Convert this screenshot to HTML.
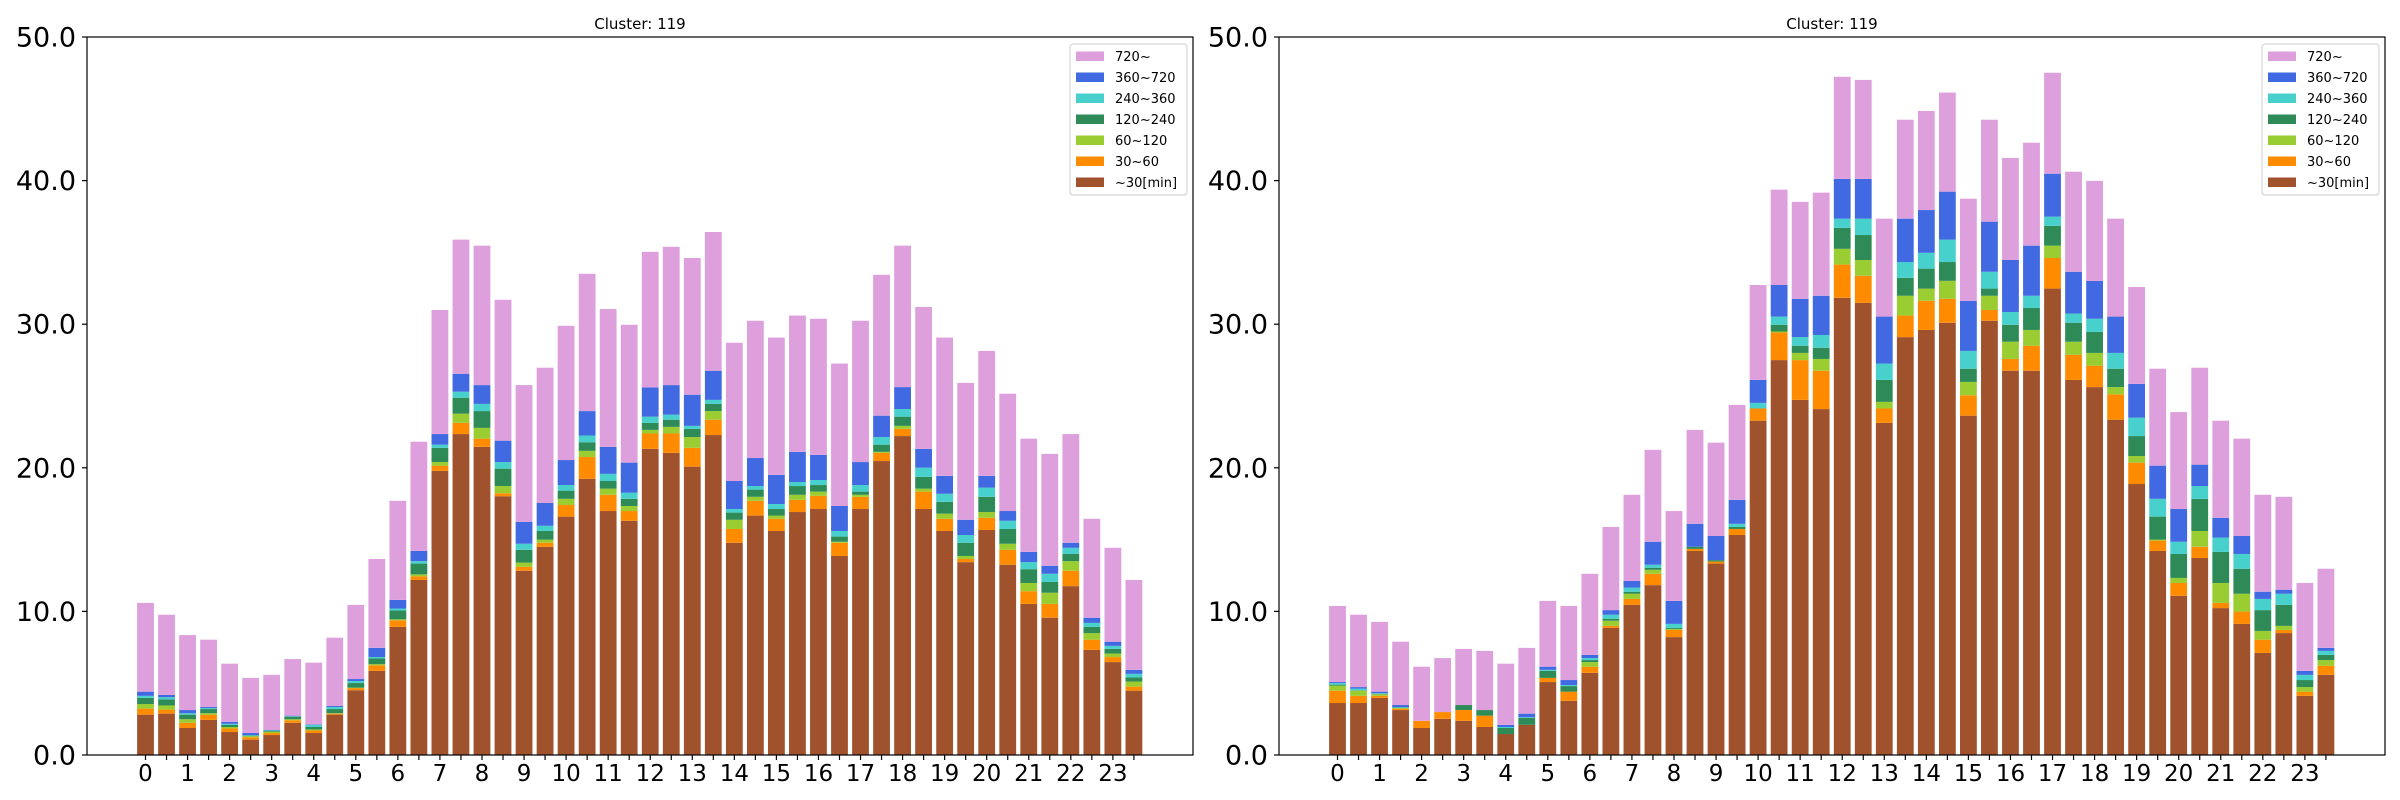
<!DOCTYPE html>
<html><head><meta charset="utf-8"><style>
html,body{margin:0;padding:0;background:#fff;}
svg{display:block;font-family:"DejaVu Sans","Liberation Sans",sans-serif;}
</style></head><body>
<svg id="chart" width="2400" height="800" viewBox="0 0 2400 800"></svg>
<script>
// ---- data ----
const hourLabels = ["0","1","2","3","4","5","6","7","8","9","10","11","12","13","14","15","16","17","18","19","20","21","22","23"];
const yTicks = [0,10,20,30,40,50];
const seriesNames = ["~30[min]","30~60","60~120","120~240","240~360","360~720","720~"];
const seriesColors = ["#a0522d","#ff8c00","#9acd32","#2e8b57","#48d1cc","#4169e1","#dda0dd"];

// left panel segment values
const L_under30 = [2.81,2.88,1.88,2.45,1.60,1.07,1.39,2.24,1.53,2.81,4.51,5.86,8.92,12.19,19.79,22.35,21.46,18.02,12.83,14.50,16.60,19.23,16.99,16.31,21.32,21.04,20.08,22.28,14.78,16.67,15.60,16.92,17.13,13.86,17.13,20.47,22.21,17.13,15.60,13.43,15.67,13.25,10.52,9.56,11.76,7.32,6.47,4.48];
const L_30to60 = [.42,.28,.36,.36,.25,.17,.14,.18,.18,.07,.15,.39,.46,.25,.36,.78,.57,.21,.28,.28,.81,1.52,1.13,.68,1.07,1.35,1.31,1.07,.96,1.03,.85,.85,.92,.92,.85,.57,.50,1.21,.85,.22,.85,1.04,.89,.96,1.07,.71,.35,.28];
const L_60to120 = [.32,.29,.25,.10,.10,.07,.10,.07,.07,.03,.03,.08,.07,.14,.25,.64,.75,.50,.29,.22,.43,.43,.43,.35,.25,.46,.75,.60,.64,.28,.22,.35,.29,.07,.14,.07,.21,.21,.36,.21,.40,.42,.57,.78,.67,.46,.25,.36];
const L_120to240 = [.43,.42,.32,.29,.15,.04,.04,.18,.17,.29,.32,.39,.61,.75,.99,1.11,1.17,1.21,.89,.60,.57,.60,.53,.50,.49,.50,.57,.50,.50,.50,.46,.61,.46,.36,.22,.50,.64,.82,.82,.92,1.06,1.03,.96,.75,.50,.43,.32,.28];
const L_240to360 = [.14,.15,.10,.07,.07,.04,.04,.03,.15,.14,.14,.10,.14,.17,.22,.42,.50,.46,.42,.36,.39,.47,.50,.43,.43,.35,.21,.28,.25,.25,.35,.28,.35,.39,.46,.53,.53,.64,.56,.54,.64,.57,.49,.57,.43,.28,.21,.25];
const L_360to720 = [.29,.17,.22,.07,.14,.14,.03,.04,.03,.07,.14,.64,.60,.71,.74,1.25,1.31,1.49,1.53,1.59,1.74,1.70,1.88,2.09,2.03,2.06,2.17,2.03,1.95,1.95,2.03,2.10,1.75,1.74,1.60,1.49,1.53,1.31,1.25,1.06,.82,.68,.71,.56,.35,.36,.29,.28];
const L_over720 = [6.18,5.58,5.22,4.69,4.05,3.84,3.84,3.94,4.30,4.76,5.16,6.19,6.90,7.61,8.64,9.34,9.71,9.81,9.52,9.42,9.35,9.56,9.60,9.60,9.45,9.63,9.52,9.66,9.63,9.56,9.56,9.49,9.48,9.92,9.84,9.81,9.85,9.88,9.63,9.53,8.70,8.17,7.89,7.79,7.57,6.89,6.54,6.26];

// right panel segment values
const R_under30 = [3.62,3.62,3.98,3.13,1.88,2.52,2.38,1.95,1.46,2.10,5.08,3.77,5.72,8.85,10.45,11.83,8.21,14.21,13.33,15.32,23.28,27.50,24.73,24.09,31.84,31.49,23.13,29.10,29.60,30.10,23.63,30.24,26.76,26.76,32.48,26.12,25.62,23.35,18.87,14.21,11.09,13.72,10.23,9.13,7.11,8.49,4.12,5.58];
const R_30to60 = [.86,.50,.14,.10,.50,.47,.75,.79,0,0,.29,.64,.43,.14,.42,.79,.50,.14,.14,.42,.85,1.92,2.77,2.67,2.31,1.88,1.00,1.50,2.03,1.67,1.42,.75,.82,1.74,2.13,1.74,1.49,1.77,1.49,.72,.89,.78,.36,.86,.92,.22,.29,.64];
const R_60to120 = [.35,.36,.11,.04,0,0,0,0,0,0,0,0,.32,.36,.36,.28,.07,0,0,0,0,.07,.50,.82,1.10,1.10,.46,1.38,.85,1.25,.93,.99,1.20,1.10,.86,.92,.89,.50,.46,.07,.35,1.10,1.39,1.24,.61,.28,.32,.39];
const R_120to240 = [.07,.03,.03,.03,0,0,.35,.39,.42,.49,.49,.39,.14,.14,.14,.14,.07,.15,.10,.14,0,.47,.50,.78,1.46,1.74,1.53,1.25,1.39,1.31,.92,.50,1.18,1.53,1.38,1.32,1.46,1.28,1.39,1.60,1.67,2.24,2.16,1.74,1.45,1.46,.49,.36];
const R_240to360 = [.11,.11,.04,.04,0,0,0,0,.07,.04,.07,.07,.14,.28,.29,.21,.28,0,0,.22,.39,.57,.60,.89,.64,1.14,1.14,1.10,1.10,1.56,1.24,1.17,.89,.85,.64,.64,.92,1.10,1.28,1.24,.85,.89,1.00,1.03,.78,.78,.36,.28];
const R_360to720 = [.07,.11,.11,.14,0,0,0,0,.15,.25,.22,.35,.22,.32,.46,1.60,1.60,1.60,1.68,1.67,1.60,2.20,2.67,2.73,2.77,2.77,3.27,3.02,2.98,3.34,3.49,3.49,3.62,3.49,2.99,2.91,2.63,2.53,2.35,2.31,2.28,1.49,1.38,1.25,.50,.28,.28,.21];
const R_over720 = [5.30,5.04,4.86,4.41,3.77,3.76,3.91,4.12,4.26,4.58,4.58,5.16,5.65,5.79,6.00,6.40,6.26,6.54,6.50,6.61,6.61,6.64,6.75,7.18,7.11,6.89,6.82,6.89,6.90,6.90,7.11,7.10,7.11,7.17,7.03,6.97,6.97,6.82,6.75,6.75,6.75,6.75,6.76,6.78,6.75,6.47,6.12,5.51];

const leftSeries = [L_under30,L_30to60,L_60to120,L_120to240,L_240to360,L_360to720,L_over720];
const rightSeries = [R_under30,R_30to60,R_60to120,R_120to240,R_240to360,R_360to720,R_over720];

// ---- drawing ----
const NS = "http://www.w3.org/2000/svg";
const svg = document.getElementById("chart");
function mk(tag, attrs, parent){
  const e = document.createElementNS(NS, tag);
  for (const k in attrs) e.setAttribute(k, attrs[k]);
  (parent || svg).appendChild(e);
  return e;
}
const TOP = 37, BOT = 755, YMAX = 50;
const BAR_STEP = 21.03, BAR_OFF = 58.5, BAR_W = 16.8;

function drawPanel(left, right, series, panelName){
  const g = mk("g", {});
  
  
  const yS = v => BOT - v * (BOT - TOP) / YMAX;
  const xS = i => left + BAR_OFF + i * BAR_STEP;
  const n = series[0].length;
  for (let i = 0; i < n; i++){
    let base = 0;
    for (let s = 0; s < series.length; s++){
      const v = series[s][i];
      const y0 = yS(base), y1 = yS(base + v);
      const r = mk("rect", {x: xS(i) - BAR_W/2, y: y1, width: BAR_W, height: Math.max(0, y0 - y1), fill: seriesColors[s]}, g);
      
      
      base += v;
    }
  }
  // axes frame
  const frame = mk("rect", {x: left, y: TOP, width: right - left, height: BOT - TOP, fill: "none", stroke: "#000", "stroke-width": 1.2}, g);
  
  
  // y ticks
  for (const t of yTicks){
    const y = yS(t);
    const tk = mk("line", {x1: left - 5, x2: left, y1: y, y2: y, stroke: "#000", "stroke-width": 1.2}, g);
    
    
    const tx = mk("text", {x: left - 11, y: y + 9.5, "text-anchor": "end", "font-size": 27, fill: "#000"}, g);
    
    
    tx.textContent = t.toFixed(1);
  }
  // x ticks
  for (let i = 0; i < n; i++){
    const x = xS(i);
    const tk = mk("line", {x1: x, x2: x, y1: BOT, y2: BOT + 5, stroke: "#000", "stroke-width": 1.2}, g);
    
    
    if (i % 2 === 0){
      const tx = mk("text", {x: x, y: BOT + 26, "text-anchor": "middle", "font-size": 23, fill: "#000"}, g);
      
      
      tx.textContent = hourLabels[i/2];
    }
  }
  // title
  const title = mk("text", {x: (left + right)/2, y: 29, "text-anchor": "middle", "font-size": 15, fill: "#000"}, g);
  
  
  title.textContent = "Cluster: 119";
  // legend
  const lg = mk("g", {}, g);
  
  
  const lx = right - 123, ly = 44;
  mk("rect", {x: lx, y: ly, width: 117, height: 151, rx: 3, fill: "#fff", "fill-opacity": 0.8, stroke: "#ccc", "stroke-width": 1}, lg);
  for (let k = 0; k < 7; k++){
    const s = 6 - k;
    const cy = ly + 12 + k * 21;
    const e = mk("g", {}, lg);
    
    
    mk("rect", {x: lx + 6, y: cy - 4.5, width: 28, height: 9.5, fill: seriesColors[s]}, e);
    const t = mk("text", {x: lx + 45, y: cy + 5, "font-size": 13, fill: "#000"}, e);
    t.textContent = seriesNames[s];
  }
}
drawPanel(87, 1193, leftSeries, "left-panel");
drawPanel(1279, 2385, rightSeries, "right-panel");
</script>
</body></html>
